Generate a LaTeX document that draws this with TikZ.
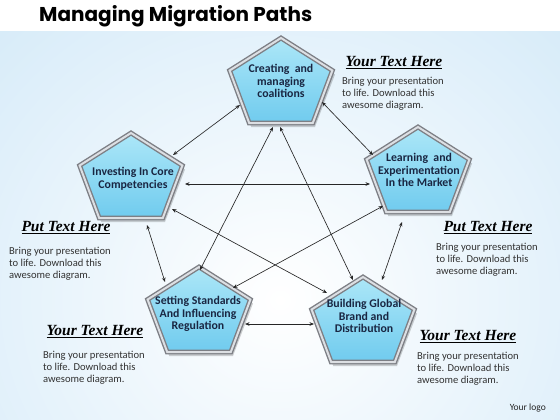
\documentclass[tikz,border=0pt]{standalone}
\usepackage{fontspec}
\setmainfont{Carlito}
\newfontfamily\titlefnt{Poppins}
\newfontfamily\yourfnt{Liberation Serif}
\usetikzlibrary{arrows.meta,calc}
\definecolor{bgblue}{RGB}{198,227,246}
\definecolor{pbluetop}{RGB}{172,231,248}
\definecolor{pbluebot}{RGB}{112,203,238}
\definecolor{framedark}{RGB}{125,127,133}
\definecolor{framelight}{RGB}{220,223,227}
\definecolor{pnavy}{RGB}{25,38,66}
\definecolor{bodygray}{RGB}{50,50,50}
\begin{document}
\begin{tikzpicture}[x=1pt,y=-1pt,
  conn/.style={{Stealth[length=4.5pt,width=3.6pt]}-{Stealth[length=4.5pt,width=3.6pt]},line width=0.65pt,black!85},
  ptext/.style={align=center,font=\fontsize{11.8}{12.8}\selectfont\bfseries,text=pnavy,inner sep=0pt},
  head/.style={font=\yourfnt\fontsize{15.5}{16}\selectfont\bfseries\itshape,inner sep=0pt},
  body/.style={align=left,font=\fontsize{10.6}{12.2}\selectfont,text=bodygray,inner sep=0pt,anchor=north west},
  pent/.pic={
    \coordinate (-c) at (0,0);
    \fill[black,opacity=0.18] (2,-43) -- (54,-10.5) -- (34,42) -- (-29.8,42) -- (-49.4,-10.5) -- cycle;
    \shade[top color=pbluetop,bottom color=pbluebot,draw=framedark,line width=4.8pt,line join=miter]
      (0,-47) -- (51.4,-14.5) -- (31.8,38) -- (-31.8,38) -- (-51.4,-14.5) -- cycle;
    \draw[framelight,line width=2pt,line join=miter]
      (0,-47) -- (51.4,-14.5) -- (31.8,38) -- (-31.8,38) -- (-51.4,-14.5) -- cycle;
  }]
\useasboundingbox (0,0) rectangle (560,420);
\fill[white] (0,0) rectangle (560,420);
\begin{scope}
  \clip (0,32) rectangle (560,420);
  \shade[inner color=white,outer color=bgblue] (-300,-250) rectangle (860,850);
\end{scope}

\node[anchor=west,inner sep=0pt,font=\titlefnt\bfseries\fontsize{20}{22}\selectfont] (title) at (39,16) {Managing Migration Paths};

% pentagons
\pic (ptop) at (281,85) {pent};
\pic (pleft) at (131,180) {pent};
\pic (pright) at (418,174) {pent};
\pic (pbl) at (199,314) {pent};
\pic (pbr) at (363,324) {pent};

\node[ptext] (ttop) at (281,81) {Creating\ \ and\\managing\\coalitions};
\node[ptext] (tleft) at (133,179) {Investing In Core\\Competencies};
\node[ptext] (tright) at (419,170) {Learning\ \ and\\Experimentation\\In the Market};
\node[ptext] (tbl) at (198,314) {Setting Standards\\And Influencing\\Regulation};
\node[ptext] (tbr) at (364,316) {Building Global\\Brand and\\Distribution};

% connectors
\draw[conn] ($(ptop-c)+(-41,20)$) -- ($(pleft-c)+(42,-25)$);
\draw[conn] ($(ptop-c)+(41,17)$) -- ($(pright-c)+(-45,-19)$);
\draw[conn] ($(pleft-c)+(54,4)$) -- ($(pright-c)+(-48,10)$);
\draw[conn] ($(ptop-c)+(-8,42)$) -- ($(pbl-c)+(1,-44)$);
\draw[conn] ($(ptop-c)+(-1,42)$) -- ($(pbr-c)+(-10,-44)$);
\draw[conn] ($(pleft-c)+(41,29)$) -- ($(pbr-c)+(-36,-31)$);
\draw[conn] ($(pright-c)+(-35,32)$) -- ($(pbl-c)+(34,-26)$);
\draw[conn] ($(pleft-c)+(16,45)$) -- ($(pbl-c)+(-34,-32)$);
\draw[conn] ($(pright-c)+(-16,48)$) -- ($(pbr-c)+(19,-44)$);
\draw[conn] ($(pbl-c)+(46,10)$) -- ($(pbr-c)+(-49,0)$);

% side texts
\node[head] (h1) at (394,63) {\underline{Your\ Text\ Here}};
\node[body] (b1) at (342,77) {Bring your presentation\\to life. Download this\\awesome diagram.};
\node[head] (h2) at (66,228) {\underline{Put\ Text\ Here}};
\node[body] (b2) at (9,247) {Bring your presentation\\to life. Download this\\awesome diagram.};
\node[head] (h3) at (488,228) {\underline{Put\ Text\ Here}};
\node[body] (b3) at (436,243) {Bring your presentation\\to life. Download this\\awesome diagram.};
\node[head] (h4) at (95,332) {\underline{Your\ Text\ Here}};
\node[body] (b4) at (43,351) {Bring your presentation\\to life. Download this\\awesome diagram.};
\node[head] (h5) at (468,337) {\underline{Your\ Text\ Here}};
\node[body] (b5) at (417,352) {Bring your presentation\\to life. Download this\\awesome diagram.};

\node[anchor=east,inner sep=0pt,font=\fontsize{9.5}{11}\selectfont,text=black!85] (logo) at (546,408) {Your logo};
\end{tikzpicture}
\end{document}
